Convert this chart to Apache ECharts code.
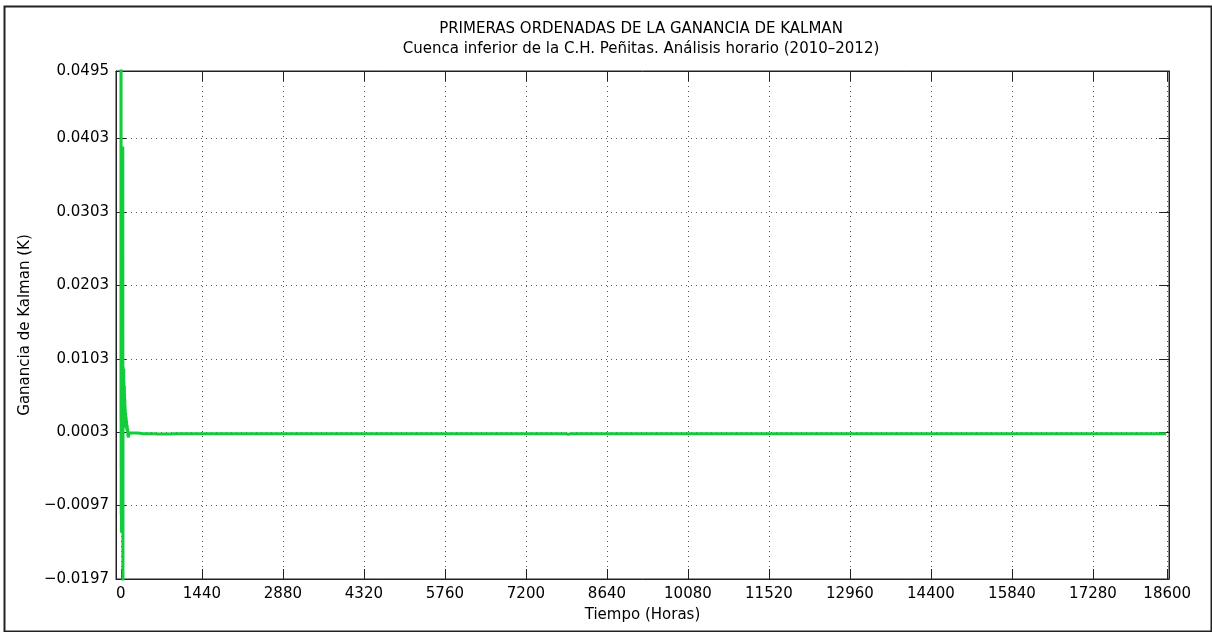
<!DOCTYPE html>
<html>
<head>
<meta charset="utf-8">
<script src="https://cdn.jsdelivr.net/npm/echarts@6/dist/echarts.min.js"></script>
<style>
html,body{margin:0;padding:0;background:#fff;}
#c{width:1212px;height:632px;}
</style>
</head>
<body>
<div id="c"></div>
<script>
// Time (hours)
const hours = [
  1, 2, 3, 4, 5, 6, 8, 10, 12, 14, 16, 18, 20, 22, 24, 26, 28, 30, 32, 34,
  36, 38, 40, 42, 44, 46, 48, 50, 52, 54, 56, 58, 60, 62, 64, 66, 68, 70, 72, 74,
  76, 78, 80, 84, 88, 92, 96, 100, 105, 110, 115, 120, 125, 130, 135, 140, 150, 160, 170, 180,
  190, 200, 250, 300, 400, 500, 600, 650, 700, 800, 880, 950, 1100, 1440, 2000, 2880, 3600, 4320, 5000, 5760,
  6500, 7200, 7900, 7950, 8000, 8640, 9500, 10080, 11000, 11520, 12500, 12960, 13800, 14400, 15200, 15840, 16600, 17280, 18000, 18580
];
// First ordinate of the Kalman gain
const gain = [
  0.0612, 0.0021, 0.0538, -0.0045, 0.0046, -0.0110, 0.0052, -0.0134, 0.0031, 0.0047, 0.0012, -0.0061, 0.0043, 0.0015, 0.0038, -0.0023, 0.0018, 0.0041, 0.0392, 0.0389,
  -0.0284, 0.0087, 0.0092, 0.0035, 0.0076, 0.0011, 0.0058, 0.0089, 0.0024, 0.0071, 0.0015, 0.0063, 0.0028, 0.0066, 0.0019, 0.0055, 0.0012, 0.0048, 0.0021, 0.0039,
  0.0010, 0.0034, 0.0017, 0.0029, 0.0009, 0.0024, 0.0012, 0.0019, 0.0006, 0.0013, 0.0004, 0.0008, -0.0001, -0.0004, -0.0005, -0.0002, 0.0002, 0.0004, 0.0003, 0.0002,
  0.0002, 0.0002, 0.0002, 0.0002, 0.0001, 0.0001, 0.0001, 0.00005, 0.00005, 0.00005, 0.00005, 0.0001, 0.0001, 0.0001, 0.0001, 0.0001, 0.0001, 0.0001, 0.0001, 0.0001,
  0.0001, 0.0001, 0.0001, 0.0000, 0.0001, 0.0001, 0.0001, 0.0001, 0.0001, 0.0001, 0.0001, 0.0001, 0.0001, 0.0001, 0.0001, 0.0001, 0.0001, 0.0001, 0.0001, 0.0001
];
const xTicks = [0, 1440, 2880, 4320, 5760, 7200, 8640, 10080, 11520, 12960, 14400, 15840, 17280, 18600];
const yTicks = [-0.0197, -0.0097, 0.0003, 0.0103, 0.0203, 0.0303, 0.0403, 0.0495];

const titleText = 'PRIMERAS ORDENADAS DE LA GANANCIA DE KALMAN';
const subText = 'Cuenca inferior de la C.H. Peñitas. Análisis horario (2010\u20132012)';
const xName = 'Tiempo (Horas)';
const yName = 'Ganancia de Kalman (K)';

const FONT = 'DejaVu Sans';
const data = hours.map((h, i) => [h, gain[i]]);
const fmtY = v => (v < 0 ? '\u2212' : '') + Math.abs(v).toFixed(4);
const fmtX = v => String(Math.round(v));

const chart = echarts.init(document.getElementById('c'), null, {renderer: 'canvas'});
const gridLine = {show: true, lineStyle: {color: '#555', width: 1, type: [1, 4]}};
chart.setOption({
  backgroundColor: '#fff',
  animation: false,
  title: {
    text: titleText, subtext: subText,
    left: 636, top: 15, textAlign: 'center', itemGap: 2,
    textStyle: {fontFamily: FONT, fontSize: 15, fontWeight: 'normal', color: '#000', lineHeight: 18},
    subtextStyle: {fontFamily: FONT, fontSize: 15, color: '#000', lineHeight: 18}
  },
  grid: {left: 116, right: 43, top: 71, bottom: 53, show: true, borderColor: '#222', borderWidth: 1, backgroundColor: '#fff'},
  xAxis: [{
    type: 'value', min: -87, max: 18632, position: 'bottom',
    name: xName, nameLocation: 'middle', nameGap: 29,
    nameTextStyle: {fontFamily: FONT, fontSize: 15, color: '#000'},
    axisLine: {show: true, onZero: false, lineStyle: {color: '#222', width: 1}},
    axisTick: {show: true, inside: true, length: 10, customValues: xTicks, lineStyle: {color: '#222'}},
    axisLabel: {customValues: xTicks, margin: 8, fontFamily: FONT, fontSize: 15, color: '#000', formatter: fmtX},
    splitLine: gridLine
  }, {
    type: 'value', min: -87, max: 18632, position: 'top',
    axisLine: {show: true, onZero: false, lineStyle: {color: '#222', width: 1}},
    axisTick: {show: true, inside: true, length: 10, customValues: xTicks, lineStyle: {color: '#222'}},
    axisLabel: {show: false},
    splitLine: {show: false}
  }],
  yAxis: [{
    type: 'value', min: -0.0197, max: 0.0495, position: 'left',
    name: yName, nameLocation: 'middle', nameGap: 66,
    nameTextStyle: {fontFamily: FONT, fontSize: 15, color: '#000'},
    axisLine: {show: true, onZero: false, lineStyle: {color: '#222', width: 1}},
    axisTick: {show: true, inside: true, length: 10, customValues: yTicks, lineStyle: {color: '#222'}},
    axisLabel: {customValues: yTicks, margin: 7, fontFamily: FONT, fontSize: 15, color: '#000', formatter: fmtY},
    splitLine: gridLine
  }, {
    type: 'value', min: -0.0197, max: 0.0495, position: 'right',
    axisLine: {show: true, onZero: false, lineStyle: {color: '#222', width: 1}},
    axisTick: {show: true, inside: true, length: 10, customValues: yTicks, lineStyle: {color: '#222'}},
    axisLabel: {show: false},
    splitLine: {show: false}
  }],
  graphic: [{
    type: 'rect', left: 2, top: 4, z: 100, silent: true,
    shape: {width: 1207, height: 625},
    style: {fill: 'none', stroke: '#222', lineWidth: 2}
  }],
  series: [{
    type: 'line', xAxisIndex: 0, yAxisIndex: 0,
    data: data, showSymbol: false, symbol: 'none', clip: true,
    lineStyle: {color: '#12cc3c', width: 3},
    z: 5
  }]
});
</script>
</body>
</html>
